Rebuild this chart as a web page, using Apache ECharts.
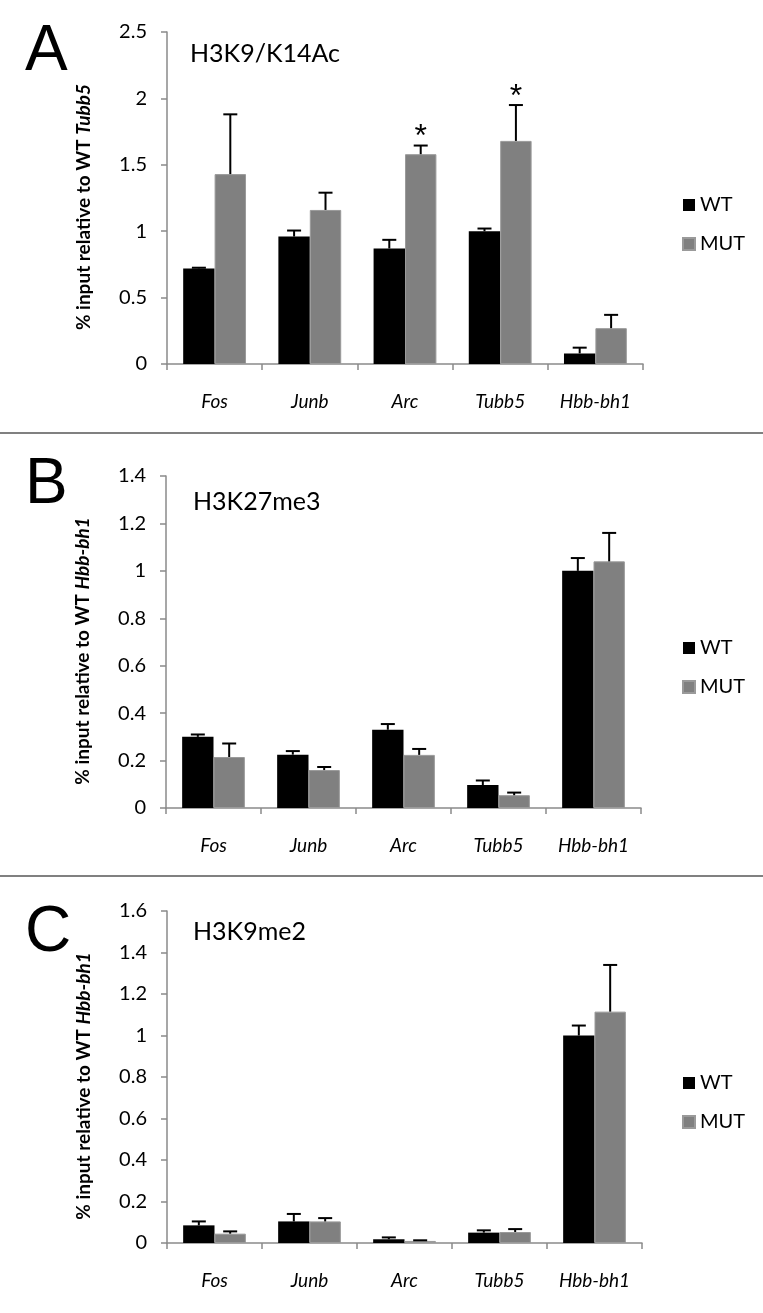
<!DOCTYPE html>
<html>
<head>
<meta charset="utf-8">
<script src="https://cdn.jsdelivr.net/npm/echarts@6/dist/echarts.min.js"></script>
<style>
html,body{margin:0;padding:0;background:#fff;}
#chart{width:763px;height:1313px;}
</style>
</head>
<body>
<div id="chart"></div>
<script>
// ---- data ----
const categories = ['Fos', 'Junb', 'Arc', 'Tubb5', 'Hbb-bh1'];
const seriesNames = ['WT', 'MUT'];

// Panel A: H3K9/K14Ac
const wtA = [0.72, 0.96, 0.87, 1.00, 0.08];
const wtErrA = [0.005, 0.045, 0.065, 0.02, 0.043];
const mutA = [1.43, 1.16, 1.58, 1.68, 0.27];
const mutErrA = [0.45, 0.13, 0.065, 0.27, 0.10];
const starsA = [0, 0, 1, 1, 0];

// Panel B: H3K27me3
const wtB = [0.30, 0.225, 0.33, 0.097, 1.00];
const wtErrB = [0.01, 0.015, 0.024, 0.019, 0.054];
const mutB = [0.215, 0.16, 0.224, 0.054, 1.04];
const mutErrB = [0.057, 0.013, 0.025, 0.011, 0.12];

// Panel C: H3K9me2
const wtC = [0.085, 0.104, 0.018, 0.05, 1.00];
const wtErrC = [0.019, 0.036, 0.009, 0.011, 0.048];
const mutC = [0.045, 0.104, 0.01, 0.053, 1.115];
const mutErrC = [0.011, 0.016, 0.003, 0.014, 0.225];
const noStars = [0, 0, 0, 0, 0];

const yMaxes = [2.5, 1.4, 1.6];
const yIntervals = [0.5, 0.2, 0.2];
const panelTitles = ['H3K9/K14Ac', 'H3K27me3', 'H3K9me2'];
const panelLetters = ['A', 'B', 'C'];
const yNameRefs = ['Tubb5', 'Hbb-bh1', 'Hbb-bh1'];

// ---- layout ----
const FONT = 'Lato, "Open Sans", sans-serif';
const AXIS_COLOR = '#8a8a8a';
const grids = [
  {left: 167, top: 32, width: 476, height: 332},
  {left: 166, top: 476, width: 475, height: 332},
  {left: 167, top: 911, width: 475, height: 332}
];
const panels = [
  {wt: wtA, wtErr: wtErrA, mut: mutA, mutErr: mutErrA, stars: starsA},
  {wt: wtB, wtErr: wtErrB, mut: mutB, mutErr: mutErrB, stars: noStars},
  {wt: wtC, wtErr: wtErrC, mut: mutC, mutErr: mutErrC, stars: noStars}
];
const CAT_GAP = 0.34;

function errRender(sign) {
  return function (params, api) {
    const x = api.value(0), v = api.value(1), e = api.value(2), star = api.value(3);
    const band = api.size([1, 0])[0];
    const bw = band * (1 - CAT_GAP) / 2;
    const base = api.coord([x, v]);
    const top = api.coord([x, v + e]);
    const cx = base[0] + sign * bw / 2;
    const children = [
      {type: 'line', shape: {x1: cx, y1: base[1], x2: cx, y2: top[1]}, style: {stroke: '#000', lineWidth: 2}},
      {type: 'line', shape: {x1: cx - 7, y1: top[1], x2: cx + 7, y2: top[1]}, style: {stroke: '#000', lineWidth: 2}}
    ];
    if (star) {
      children.push({type: 'text', x: cx, y: top[1] + 8,
        style: {text: '*', fontSize: 32, fontFamily: 'Liberation Sans, Arial, sans-serif', fill: '#000', align: 'center', verticalAlign: 'bottom'}});
    }
    return {type: 'group', children: children};
  };
}

const option = {
  animation: false,
  backgroundColor: '#fff',
  grid: grids,
  xAxis: grids.map((g, i) => ({
    type: 'category', gridIndex: i, data: categories,
    axisLine: {lineStyle: {color: AXIS_COLOR, width: 1.5}},
    axisTick: {show: true, length: 6, lineStyle: {color: AXIS_COLOR, width: 1.5}},
    axisLabel: {interval: 0, fontFamily: FONT, fontStyle: 'italic', fontSize: 19, color: '#000', margin: 28}
  })),
  yAxis: grids.map((g, i) => ({
    type: 'value', gridIndex: i, min: 0, max: yMaxes[i], interval: yIntervals[i],
    splitLine: {show: false},
    axisLine: {show: true, lineStyle: {color: AXIS_COLOR, width: 1.5}},
    axisTick: {show: true, length: 6, lineStyle: {color: AXIS_COLOR, width: 1.5}},
    axisLabel: {fontFamily: FONT, fontSize: 20, color: '#000', margin: 20},
    name: '{b|% input relative to WT }{bi|' + yNameRefs[i] + '}',
    nameLocation: 'middle', nameRotate: 90, nameGap: 74,
    nameTextStyle: {
      padding: [0, 18, 0, 0],
      rich: {
        b: {fontFamily: FONT, fontWeight: 'bold', fontSize: 19, color: '#000'},
        bi: {fontFamily: FONT, fontWeight: 'bold', fontStyle: 'italic', fontSize: 19, color: '#000'}
      }
    }
  })),
  legend: grids.map((g, i) => ({
    data: seriesNames, orient: 'vertical', left: 677,
    top: [190, 633, 1068][i],
    itemWidth: 12, itemHeight: 12, itemGap: 19, icon: 'rect',
    textStyle: {fontFamily: FONT, fontSize: 20, color: '#000'}
  })),
  title: grids.map((g, i) => ({
    text: panelTitles[i], left: [185, 188, 188][i], top: [36, 484, 914][i],
    textStyle: {fontFamily: FONT, fontWeight: 'normal', fontSize: 25, color: '#000'}
  })),
  graphic: [
    {type: 'line', shape: {x1: 0, y1: 433, x2: 763, y2: 433}, style: {stroke: '#808080', lineWidth: 2}},
    {type: 'line', shape: {x1: 0, y1: 876, x2: 763, y2: 876}, style: {stroke: '#808080', lineWidth: 2}}
  ].concat(panelLetters.map((L, i) => ({
    type: 'text', x: 25, y: [52, 485, 933][i],
    style: {text: L, fontSize: 64, fontFamily: 'Liberation Sans, Arial, sans-serif', fill: '#000', verticalAlign: 'middle'}
  }))),
  series: []
};

panels.forEach((p, i) => {
  option.series.push({
    name: 'WT', type: 'bar', xAxisIndex: i, yAxisIndex: i, data: p.wt,
    barGap: '0%', barCategoryGap: (CAT_GAP * 100) + '%',
    itemStyle: {color: '#000000'}
  });
  option.series.push({
    name: 'MUT', type: 'bar', xAxisIndex: i, yAxisIndex: i, data: p.mut,
    barGap: '0%', barCategoryGap: (CAT_GAP * 100) + '%',
    itemStyle: {color: '#808080', borderColor: '#9a9a9a', borderWidth: 1}
  });
  option.series.push({
    name: 'WT err', type: 'custom', xAxisIndex: i, yAxisIndex: i, z: 5,
    renderItem: errRender(-1),
    encode: {x: 0, y: 1},
    data: p.wt.map((v, k) => [k, v, p.wtErr[k], 0])
  });
  option.series.push({
    name: 'MUT err', type: 'custom', xAxisIndex: i, yAxisIndex: i, z: 5,
    renderItem: errRender(1),
    encode: {x: 0, y: 1},
    data: p.mut.map((v, k) => [k, v, p.mutErr[k], p.stars[k]])
  });
});

const chart = echarts.init(document.getElementById('chart'), null, {renderer: 'canvas'});
chart.setOption(option);
</script>
</body>
</html>
